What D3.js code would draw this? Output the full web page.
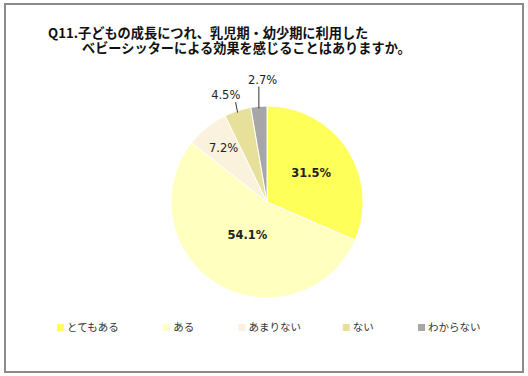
<!DOCTYPE html>
<html>
<head>
<meta charset="utf-8">
<script src="https://cdn.jsdelivr.net/npm/d3@7"></script>
<style>
  body { margin: 0; background: #fff; }
  svg { display: block; }
</style>
</head>
<body>
<div id="chart"></div>
<script>
const categories = ['とてもある', 'ある', 'あまりない', 'ない', 'わからない']
const values = [31.5, 54.1, 7.2, 4.5, 2.7]
const colors = ['#FFFF59', '#FFFFC0', '#FBF2DD', '#E6E09A', '#A6A6A6']
const titleLines = ['Q11.子どもの成長につれ、乳児期・幼少期に利用した', 'ベビーシッターによる効果を感じることはありますか。']

const width = 528
const height = 376
const jpFont = '"Noto Sans CJK JP", sans-serif'
const numFont = '"DejaVu Sans", Verdana, sans-serif'

const svg = d3.select('#chart').append('svg')
    .attr('width', width)
    .attr('height', height)

// frame
svg.append('rect')
    .attr('x', 5).attr('y', 4)
    .attr('width', 518).attr('height', 368)
    .attr('fill', '#fff')
    .attr('stroke', '#8a8a8a')
    .attr('stroke-width', 2)

// title, two lines
svg.append('text')
    .attr('font-family', jpFont)
    .attr('font-weight', 'bold')
    .attr('font-size', 13.2)
    .attr('fill', '#111')
    .selectAll('tspan')
    .data(titleLines)
    .enter()
    .append('tspan')
    .attr('x', (d, i) => i === 0 ? 48 : 82)
    .attr('y', (d, i) => i === 0 ? 38 : 53)
    .text(d => d)

// pie
const cx = 267
const cy = 202
const radius = 96

const pie = d3.pie().sort(null).value(d => d)
const arcs = pie(values)
const arc = d3.arc().innerRadius(0).outerRadius(radius)

const g = svg.append('g').attr('transform', `translate(${cx},${cy})`)

g.selectAll('path')
    .data(arcs)
    .enter()
    .append('path')
    .attr('d', arc)
    .attr('fill', (d, i) => colors[i])
    .attr('stroke', '#fff')
    .attr('stroke-width', 1)

// labels: inside for the big slices, outside with leader lines for the small ones
const labelRadius = [0.55, 0.4, 0.72, 1.2, 1.28]
const labelNudge = [[0, 0], [0, 0], [0, 0], [-6, 3], [6, 0]]
arcs.forEach((d, i) => {
    const mid = (d.startAngle + d.endAngle) / 2
    const r = radius * labelRadius[i]
    const x = Math.sin(mid) * r + labelNudge[i][0]
    const y = -Math.cos(mid) * r + labelNudge[i][1]
    const big = values[i] > 20
    if (labelRadius[i] > 1) {
        const x0 = Math.sin(mid) * radius
        const y0 = -Math.cos(mid) * radius
        g.append('line')
            .attr('x1', x0).attr('y1', y0 + 2)
            .attr('x2', x0 - (i === 3 ? 2 : 0)).attr('y2', y + 7)
            .attr('stroke', '#333')
            .attr('stroke-width', 1)
    }
    g.append('text')
        .attr('x', x)
        .attr('y', y)
        .attr('text-anchor', 'middle')
        .attr('dy', '0.35em')
        .attr('font-family', numFont)
        .attr('font-size', 11.5)
        .attr('font-weight', big ? 'bold' : 'normal')
        .attr('fill', '#222')
        .text(values[i].toFixed(1) + '%')
})

// legend
const legendX = d3.scalePoint()
    .domain(categories)
    .range([57, 418])
const legendOffsets = [0, 16, 1, 15, 0]
const legend = svg.append('g')
    .selectAll('g')
    .data(categories)
    .enter()
    .append('g')
    .attr('transform', (d, i) => `translate(${legendX(d) + legendOffsets[i]},327)`)

legend.append('rect')
    .attr('x', 0).attr('y', -3)
    .attr('width', 7).attr('height', 7)
    .attr('fill', (d, i) => colors[i])

legend.append('text')
    .attr('x', 10)
    .attr('y', 0)
    .attr('dy', '0.35em')
    .attr('font-family', jpFont)
    .attr('font-size', 10.5)
    .attr('fill', '#333')
    .text(d => d)
</script>
</body>
</html>
